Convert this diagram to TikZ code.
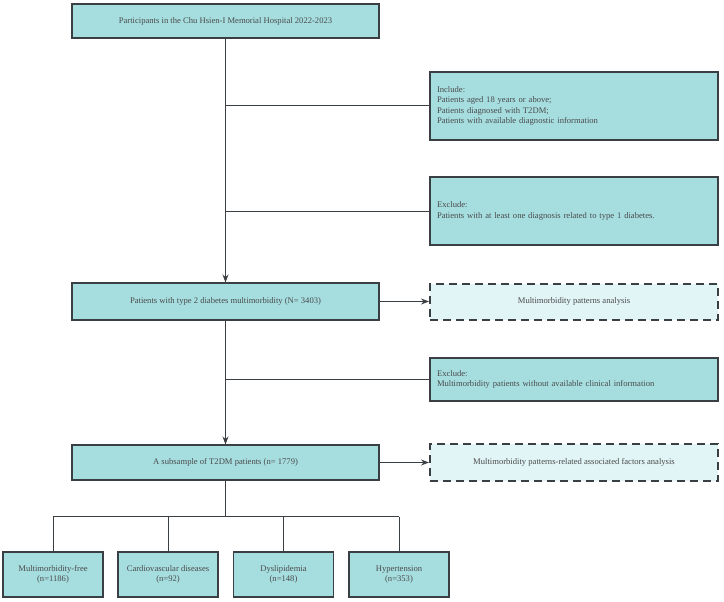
\documentclass[tikz,border=0pt]{standalone}
\usepackage{fontspec}
\setmainfont{Liberation Serif}
\usepackage{xcolor}
\usetikzlibrary{arrows.meta, positioning, calc}
\definecolor{boxfill} {HTML}{A6DEE0}
\definecolor{dashfill}{HTML}{E1F4F6}
\definecolor{edge}    {HTML}{3A3F44}
\definecolor{ink}     {HTML}{4A4A4A}

\begin{document}
\begin{tikzpicture}[
  x=1pt, y=-1pt,
  % one pixel of the layout is one point, y runs downward
  stagebox/.style={
    draw=edge, fill=boxfill, line width=1.1pt, inner sep=0pt,
    font=\fontsize{8.6}{10.6}\selectfont, text=ink, align=center
  },
  wide/.style={stagebox, minimum width=307pt},
  side/.style={stagebox, minimum width=288pt, text width=274pt, align=left},
  analysis/.style={stagebox, fill=dashfill, minimum width=288pt,
                   line width=2pt, dash pattern=on 8pt off 5pt},
  leaf/.style={stagebox, minimum width=100pt, minimum height=45pt},
  flow/.style={-{Stealth[length=8pt,width=6pt]}, line width=1pt, color=edge},
  link/.style={line width=1pt, color=edge}
]

\useasboundingbox (0,0) rectangle (724,602);

\def\C{225.5} % main column
\def\S{574}   % side column

% --- main column ----------------------------------------------------------
\node[wide, minimum height=34pt] (part) at (\C,21)
  {Participants in the Chu Hsien-I Memorial Hospital 2022-2023};
\node[wide, minimum height=37pt] (t2dm) at (\C,301.5)
  {Patients with type 2 diabetes multimorbidity (N= 3403)};
\node[wide, minimum height=35pt] (sub)  at (\C,462.5)
  {A subsample of T2DM patients (n= 1779)};

% --- criteria on the right ------------------------------------------------
\node[side, minimum height=68pt] (incl)  at (\S,106)
  {Include:\\Patients aged 18 years or above;\\Patients diagnosed with T2DM;\\Patients with available diagnostic information};
\node[side, minimum height=68pt] (excla) at (\S,211)
  {Exclude:\\Patients with at least one diagnosis related to type 1 diabetes.};
\node[side, minimum height=43pt] (exclb) at (\S,379.5)
  {Exclude:\\Multimorbidity patients without available clinical information};

% --- analyses --------------------------------------------------------------
\node[analysis, minimum height=36pt] (patt) at (\S,301.5)
  {Multimorbidity patterns analysis};
\node[analysis, minimum height=37pt] (fact) at (\S,462.5)
  {Multimorbidity patterns-related associated factors analysis};

% --- subgroups -------------------------------------------------------------
\node[leaf] (free) at (53,574.5)   {Multimorbidity-free\\(n=1186)};
\node[leaf] (cvd)  at (168,574.5)  {Cardiovascular diseases\\(n=92)};
\node[leaf] (dys)  at (283.5,574.5){Dyslipidemia\\(n=148)};
\node[leaf] (hyp)  at (399,574.5)  {Hypertension\\(n=353)};

% --- trunk and branches ----------------------------------------------------
\draw[flow] (part) -- (t2dm);
\coordinate (ba) at (part.south |- incl.west);
\coordinate (bb) at (part.south |- excla.west);
\draw[link] (ba) -- (incl.west);
\draw[link] (bb) -- (excla.west);

\draw[flow] (t2dm) -- (sub);
\coordinate (bc) at (t2dm.south |- exclb.west);
\draw[link] (bc) -- (exclb.west);

\draw[flow] (t2dm.east) -- (patt.west);
\draw[flow] (sub.east) -- (fact.west);

% --- split into the four groups --------------------------------------------
\coordinate (fork) at ($(sub.south)+(0,36)$);
\draw[link] (sub.south) -- (fork);
\draw[link] (fork -| free.north) -- (fork -| hyp.north);
\foreach \g in {free, cvd, dys, hyp}
  \draw[link] (fork -| \g.north) -- (\g.north);

\end{tikzpicture}
\end{document}
